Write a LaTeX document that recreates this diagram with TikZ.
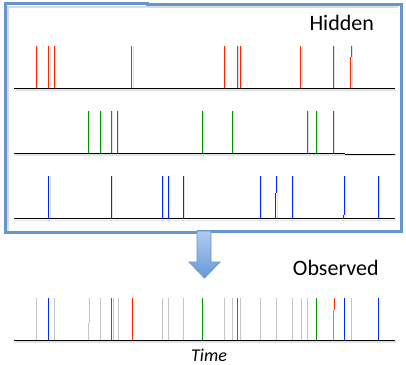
\documentclass[tikz,border=0pt]{standalone}
\usepackage{fontspec}
\setmainfont{Carlito}
\definecolor{boxblue}{RGB}{101,150,205}
\definecolor{arrowlight}{RGB}{176,204,240}
\definecolor{arrowdark}{RGB}{104,152,214}
\definecolor{spred}{RGB}{255,36,0}
\definecolor{spgreen}{RGB}{0,150,0}
\definecolor{spblue}{RGB}{0,40,255}
\definecolor{spgray}{RGB}{196,196,196}
\begin{document}
\begin{tikzpicture}[x=1pt,y=-1pt,
  axis/.style={line width=1.2pt},
  spike/.style={line width=1pt},
  shadowline/.style={black!11,line width=1.3pt},
  label/.style={font=\fontsize{22}{26}\selectfont,anchor=base}]
\useasboundingbox (0,0) rectangle (406,364);
% hidden panel
\draw[black!14,line width=1.2pt] (8,231) -- (8,7) -- (398,7);
\draw[boxblue,line width=3pt] (5.5,3.5) -- (147,3.5) -- (147,4.3) -- (401.5,4.3) -- (401.5,231) -- (198,231) -- (198,232.5) -- (5.5,232.5) -- cycle;
\node[label] (hidden) at (341.7,30.7) {Hidden};
% shadows
\foreach \y/\t in {88.3/46,153.3/111,218.7/176,340.3/298}
  \draw[shadowline] (15,\y+1.6) -- (396,\y+1.6);
\foreach \x in {36.3,48.7,54.3,131.7,224.3,237.3,240,300.7,333.3,350.7}
  \draw[shadowline] (\x+1.5,46) -- (\x+1.5,89);
\foreach \x in {88.3,100.3,111.3,117.3,202.3,232.3,307.3,316.3,333.3}
  \draw[shadowline] (\x+1.5,111) -- (\x+1.5,154);
\foreach \x in {48.7,111.3,162.3,168.3,183.3,260.3,276.3,292.3,344.3,378.3}
  \draw[shadowline] (\x+1.5,176) -- (\x+1.5,219);
% baselines
\draw[axis] (14,88.3) -- (395,88.3);
\draw[axis] (14,153.3) -- (345,153.3);
\draw[axis] (345,154.3) -- (395,154.3);
\draw[axis] (14,218.7) -- (395,218.7);
\draw[axis] (14,340.3) -- (395,340.3);
% hidden spikes
\foreach \x in {36.3,48.7,54.3,131.7,224.3,237.3,240,300.7,333.3}
  \draw[spike,spred] (\x,46) -- (\x,88.3);
\draw[spike,spred] (351.3,46) -- (351.3,57);
\draw[spike,spred] (350.4,57) -- (350.4,88.3);
\foreach \x in {88.3,100.3,111.3,117.3,202.3,232.3,307.3,316.3,333.3}
  \draw[spike,spgreen] (\x,111) -- (\x,153.3);
\foreach \x in {48.7,111.3,162.3,168.3,183.3,260.3,292.3,378.3}
  \draw[spike,spblue] (\x,176) -- (\x,218.7);
\draw[spike,spblue] (276.3,176) -- (276.3,193);
\draw[spike,spblue] (275.4,193) -- (275.4,218.7);
\draw[spike,spblue] (344.3,176) -- (344.3,215);
\draw[spike,spblue] (343.5,215) -- (343.5,218.7);
% arrow
\shade[top color=arrowlight,bottom color=arrowdark,draw=boxblue,line width=.8pt]
  (197,231) -- (211,231) -- (211,262) -- (220,262) -- (204.5,278) -- (189,262) -- (197,262) -- cycle;
\node[label] (observed) at (335.8,275.7) {Observed};
% observed spikes
\foreach \x in {36.3,54.3,100.3,113.3,118.3,162.3,168.3,183.3,224.3,232.3,240,260.3,276.3,292.3,301.3,307.3,351.3}
  \draw[spike,spgray] (\x,298) -- (\x,340.3);
\draw[spike,spgray] (89.3,298) -- (89.3,323);
\draw[spike,spgray] (88.6,323) -- (88.6,340.3);
\foreach \x/\c in {48.7/spblue,111.3/spgreen,132.7/spred,202.3/spgreen,237.3/spred,316.3/spgreen,344.3/spblue,378.3/spblue}
  \draw[spike,\c] (\x,298) -- (\x,340.3);
\draw[spike,spred] (334,298) -- (334,310);
\draw[spike,spred!45!spgray] (333.3,310) -- (333.3,340.3);
\node[font=\fontsize{18}{20}\selectfont\itshape,anchor=base,inner sep=0pt] (time) at (209,361) {Time};
\end{tikzpicture}
\end{document}
